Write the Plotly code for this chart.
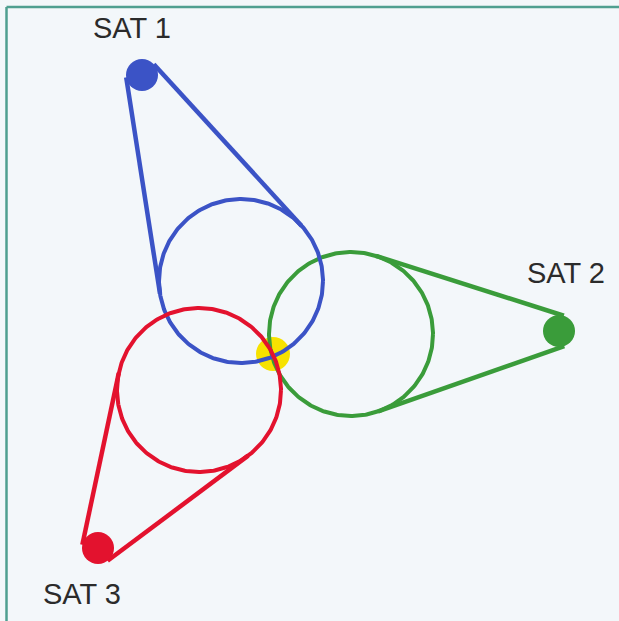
import numpy as np
import plotly.graph_objects as go

# ---- data (pixel-like diagram coordinates, y grows downward) ----
sat_names = ["SAT 1", "SAT 2", "SAT 3"]
sat_x = [142, 559, 98]
sat_y = [75, 331, 548]
sat_r = [16, 16, 16]
circle_cx = [241, 351, 199]
circle_cy = [281, 334, 390]
circle_r = [82, 82, 82]
label_x = [132, 566, 82]
label_y = [31, 276, 597]
fix_x = [273]
fix_y = [354]
colors = ["#3b53c6", "#3a9c3a", "#e3122e"]

W, H = 619, 621
fig = go.Figure()

# yellow position fix (drawn beneath lines)
fig.add_trace(go.Scatter(x=fix_x, y=fix_y, mode="markers",
                         marker=dict(size=34, color="#f7e200", line=dict(width=0)),
                         hoverinfo="skip", showlegend=False))

order = [1, 0, 2]  # green, blue, red
for i in order:
    c1 = np.array([sat_x[i], sat_y[i]], float)
    c2 = np.array([circle_cx[i], circle_cy[i]], float)
    r1, R = sat_r[i], circle_r[i]
    d = np.linalg.norm(c2 - c1)
    u = (c2 - c1) / d
    th = np.arccos((R - r1) / d)
    col = colors[i]
    for s in (1, -1):
        a = s * th
        n = np.array([u[0] * np.cos(a) - u[1] * np.sin(a),
                      u[0] * np.sin(a) + u[1] * np.cos(a)])
        p1 = c1 - r1 * n
        p2 = c2 - R * n
        fig.add_trace(go.Scatter(x=[p1[0], p2[0]], y=[p1[1], p2[1]], mode="lines",
                                 line=dict(color=col, width=4.5),
                                 hoverinfo="skip", showlegend=False))
    t = np.linspace(0, 2 * np.pi, 361)
    fig.add_trace(go.Scatter(x=circle_cx[i] + circle_r[i] * np.cos(t),
                             y=circle_cy[i] + circle_r[i] * np.sin(t),
                             mode="lines", line=dict(color=col, width=4),
                             hoverinfo="skip", showlegend=False))
    fig.add_trace(go.Scatter(x=[sat_x[i]], y=[sat_y[i]], mode="markers",
                             marker=dict(size=2 * sat_r[i], color=col, line=dict(width=0)),
                             hoverinfo="skip", showlegend=False))

fig.add_trace(go.Scatter(x=label_x, y=label_y, mode="text", text=sat_names,
                         textposition="middle center",
                         textfont=dict(family="Liberation Sans, Arial, sans-serif",
                                       size=29, color="#2b2b2b"),
                         hoverinfo="skip", showlegend=False))

# teal frame (top and left edges)
fig.add_shape(type="line", xref="paper", yref="paper", x0=6.5 / W, x1=1, y0=1 - 7 / H, y1=1 - 7 / H,
              line=dict(color="#4f9f90", width=2.5))
fig.add_shape(type="line", xref="paper", yref="paper", x0=6.5 / W, x1=6.5 / W, y0=0, y1=1 - 7 / H,
              line=dict(color="#4f9f90", width=2.5))

fig.update_layout(
    width=W, height=H,
    margin=dict(l=0, r=0, t=0, b=0),
    paper_bgcolor="#f3f7fa", plot_bgcolor="#f3f7fa",
    xaxis=dict(range=[0, W], visible=False, fixedrange=True),
    yaxis=dict(range=[H, 0], visible=False, fixedrange=True),
    showlegend=False,
)
fig.write_html("out.html",
               config={"displayModeBar": False, "staticPlot": True},
               post_script="document.body.style.margin='0';document.body.style.overflow='hidden';document.body.style.background='#f3f7fa';")
